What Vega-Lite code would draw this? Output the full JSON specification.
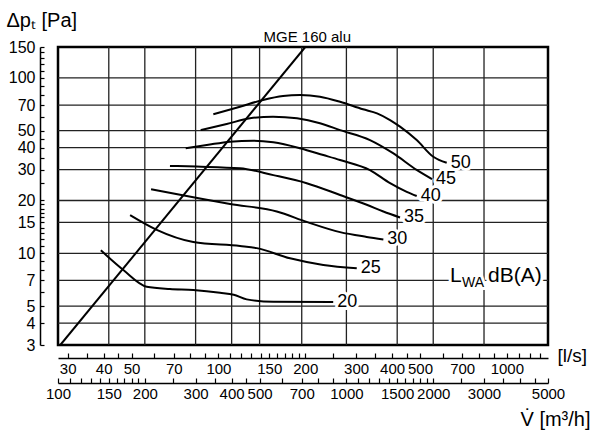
{
  "$schema": "https://vega.github.io/schema/vega-lite/v6.json",
  "width": 490,
  "height": 298,
  "autosize": {"type": "none"},
  "padding": {"left": 58, "top": 47, "right": 52, "bottom": 91},
  "background": "white",
  "config": {
    "font": "Liberation Sans",
    "view": {"stroke": "black", "strokeWidth": 2.5},
    "axis": {
      "grid": false,
      "domainColor": "black",
      "domainWidth": 1.5,
      "tickColor": "black",
      "tickWidth": 1.2,
      "labelColor": "black",
      "titleColor": "black",
      "labelFont": "Liberation Sans",
      "titleFont": "Liberation Sans",
      "labelFontSize": 16,
      "titleFontWeight": "normal",
      "labelOverlap": false,
      "labelFlush": false
    }
  },
  "datasets": {
    "vgrid": [
      {"m3h": 150}, {"m3h": 200}, {"m3h": 300}, {"m3h": 400}, {"m3h": 500},
      {"m3h": 700}, {"m3h": 1000}, {"m3h": 1500}, {"m3h": 2000}, {"m3h": 3000}
    ],
    "hgrid": [
      {"pa": 4}, {"pa": 5}, {"pa": 7}, {"pa": 10}, {"pa": 15}, {"pa": 20},
      {"pa": 30}, {"pa": 40}, {"pa": 50}, {"pa": 70}, {"pa": 100}
    ],
    "system": [
      {"name": "MGE 160 alu", "ls": 28.3, "pa": 3.0},
      {"name": "MGE 160 alu", "ls": 200, "pa": 150}
    ],
    "systemLabel": [
      {"name": "MGE 160 alu", "ls": 200, "pa": 150}
    ],
    "curves": [
      {"db": 20, "ls": 39.1, "pa": 10.4},
      {"db": 20, "ls": 46.8, "pa": 8.03},
      {"db": 20, "ls": 56.4, "pa": 6.45},
      {"db": 20, "ls": 67.9, "pa": 6.26},
      {"db": 20, "ls": 81.8, "pa": 6.18},
      {"db": 20, "ls": 101.3, "pa": 5.96},
      {"db": 20, "ls": 113, "pa": 5.8},
      {"db": 20, "ls": 125.3, "pa": 5.46},
      {"db": 20, "ls": 155, "pa": 5.29},
      {"db": 20, "ls": 250, "pa": 5.27},

      {"db": 25, "ls": 49.4, "pa": 16.5},
      {"db": 25, "ls": 61.1, "pa": 13.6},
      {"db": 25, "ls": 81.8, "pa": 11.6},
      {"db": 25, "ls": 118.8, "pa": 11.0},
      {"db": 25, "ls": 135.8, "pa": 10.7},
      {"db": 25, "ls": 177.1, "pa": 9.36},
      {"db": 25, "ls": 231, "pa": 8.58},
      {"db": 25, "ls": 301.7, "pa": 8.21},

      {"db": 30, "ls": 58.4, "pa": 23.2},
      {"db": 30, "ls": 77.6, "pa": 21.2},
      {"db": 30, "ls": 109.7, "pa": 19.1},
      {"db": 30, "ls": 159.3, "pa": 17.3},
      {"db": 30, "ls": 202.3, "pa": 15.1},
      {"db": 30, "ls": 264, "pa": 13.2},
      {"db": 30, "ls": 326.7, "pa": 12.4},
      {"db": 30, "ls": 373.1, "pa": 12.0},

      {"db": 35, "ls": 67.9, "pa": 31.5},
      {"db": 35, "ls": 84.1, "pa": 31.2},
      {"db": 35, "ls": 118.8, "pa": 30.5},
      {"db": 35, "ls": 155, "pa": 27.9},
      {"db": 35, "ls": 202.3, "pa": 25.1},
      {"db": 35, "ls": 264, "pa": 21.5},
      {"db": 35, "ls": 326.7, "pa": 18.9},
      {"db": 35, "ls": 373.1, "pa": 17.3},
      {"db": 35, "ls": 426.2, "pa": 16.0},

      {"db": 40, "ls": 77, "pa": 39.7},
      {"db": 40, "ls": 91.1, "pa": 41.4},
      {"db": 40, "ls": 109.7, "pa": 43.3},
      {"db": 40, "ls": 132.1, "pa": 43.8},
      {"db": 40, "ls": 155, "pa": 42.9},
      {"db": 40, "ls": 191.8, "pa": 39.7},
      {"db": 40, "ls": 231, "pa": 36.3},
      {"db": 40, "ls": 264, "pa": 34.0},
      {"db": 40, "ls": 335.3, "pa": 29.8},
      {"db": 40, "ls": 393.6, "pa": 25.1},
      {"db": 40, "ls": 449.7, "pa": 22.4},
      {"db": 40, "ls": 486.9, "pa": 21.2},

      {"db": 45, "ls": 86.8, "pa": 50.4},
      {"db": 45, "ls": 106.8, "pa": 54.6},
      {"db": 45, "ls": 128.7, "pa": 58.8},
      {"db": 45, "ls": 154.6, "pa": 60.1},
      {"db": 45, "ls": 187.3, "pa": 58.8},
      {"db": 45, "ls": 224.9, "pa": 55.1},
      {"db": 45, "ls": 264, "pa": 50.4},
      {"db": 45, "ls": 335.3, "pa": 44.2},
      {"db": 45, "ls": 403.1, "pa": 37.2},
      {"db": 45, "ls": 488.1, "pa": 29.8},
      {"db": 45, "ls": 550.2, "pa": 26.5},

      {"db": 50, "ls": 96, "pa": 62},
      {"db": 50, "ls": 118.8, "pa": 68.5},
      {"db": 50, "ls": 142.7, "pa": 74.8},
      {"db": 50, "ls": 167.5, "pa": 78.8},
      {"db": 50, "ls": 191.8, "pa": 79.8},
      {"db": 50, "ls": 224.9, "pa": 78.1},
      {"db": 50, "ls": 264, "pa": 73.1},
      {"db": 50, "ls": 317.1, "pa": 66.2},
      {"db": 50, "ls": 354.7, "pa": 62.8},
      {"db": 50, "ls": 393.6, "pa": 57.5},
      {"db": 50, "ls": 426.2, "pa": 52.7},
      {"db": 50, "ls": 486.9, "pa": 44.2},
      {"db": 50, "ls": 555.9, "pa": 35.5},
      {"db": 50, "ls": 618.7, "pa": 32.8}
    ],
    "ends": [
      {"db": "20", "ls": 250, "pa": 5.27},
      {"db": "25", "ls": 301.7, "pa": 8.21},
      {"db": "30", "ls": 373.1, "pa": 12.0},
      {"db": "35", "ls": 426.2, "pa": 16.0},
      {"db": "40", "ls": 486.9, "pa": 21.2},
      {"db": "45", "ls": 550.2, "pa": 26.5},
      {"db": "50", "ls": 618.7, "pa": 32.8}
    ],
    "unitLabel": [
      {"ls": 635, "pa": 6.9}
    ]
  },
  "layer": [
    {
      "layer": [
        {
          "data": {"name": "vgrid"},
          "mark": {"type": "rule", "color": "#222", "strokeWidth": 1.3},
          "encoding": {
            "x": {
              "field": "m3h",
              "type": "quantitative",
              "scale": {"type": "log", "domain": [100, 5000], "nice": false},
              "axis": {
                "orient": "bottom",
                "offset": 38,
                "values": [100, 110, 120, 130, 140, 150, 160, 170, 180, 190, 200, 250, 300, 350, 400, 450, 500, 600, 700, 800, 900, 1000, 1100, 1200, 1300, 1400, 1500, 1600, 1700, 1800, 1900, 2000, 2500, 3000, 3500, 4000, 4500, 5000],
                "tickSize": -5,
                "labelPadding": 8,
                "labelFontSize": 15,
                "labelExpr": "indexof([100,150,200,300,400,500,700,1000,1500,2000,3000,5000], datum.value) >= 0 ? format(datum.value, 'd') : ''",
                "title": "V̇ [m³/h]",
                "titleFontSize": 20,
                "titleX": 532,
                "titleY": 42,
                "titleAlign": "right",
                "titleBaseline": "alphabetic",
                "titleAngle": 0
              }
            }
          }
        },
        {
          "data": {"name": "hgrid"},
          "mark": {"type": "rule", "color": "#222", "strokeWidth": 1.3},
          "encoding": {
            "y": {
              "field": "pa",
              "type": "quantitative",
              "scale": {"type": "log", "domain": [3, 150], "nice": false},
              "axis": {
                "orient": "left",
                "offset": 18,
                "values": [3, 4, 5, 6, 7, 8, 9, 10, 11, 12, 13, 14, 15, 16, 17, 18, 19, 20, 25, 30, 35, 40, 45, 50, 60, 70, 80, 90, 100, 110, 120, 130, 140, 150],
                "tickSize": -4,
                "labelPadding": 9,
                "labelExpr": "indexof([3,4,5,7,10,15,20,30,40,50,70,100,150], datum.value) >= 0 ? format(datum.value, 'd') : ''",
                "title": "Δpₜ [Pa]",
                "titleFontSize": 20,
                "titleAngle": 0,
                "titleX": -34,
                "titleY": -21,
                "titleAlign": "left",
                "titleBaseline": "alphabetic"
              }
            }
          }
        }
      ]
    },
    {
      "layer": [
        {
          "data": {"name": "ends"},
          "mark": {"type": "text", "align": "left", "baseline": "middle", "dx": 4, "fontSize": 18, "color": "white", "stroke": "white", "strokeWidth": 6, "strokeJoin": "round"},
          "encoding": {
            "x": {"field": "ls", "type": "quantitative", "scale": {"type": "log", "domain": [27.778, 1388.89], "nice": false}},
            "y": {"field": "pa", "type": "quantitative", "scale": {"type": "log", "domain": [3, 150], "nice": false}},
            "text": {"field": "db"}
          }
        },
        {
          "data": {"name": "unitLabel"},
          "layer": [
            {"mark": {"type": "text", "align": "left", "baseline": "alphabetic", "fontSize": 21, "color": "white", "stroke": "white", "strokeWidth": 6, "strokeJoin": "round", "text": "L"}},
            {"mark": {"type": "text", "align": "left", "baseline": "alphabetic", "dx": 12, "dy": 5, "fontSize": 14, "color": "white", "stroke": "white", "strokeWidth": 6, "strokeJoin": "round", "text": "WA"}},
            {"mark": {"type": "text", "align": "left", "baseline": "alphabetic", "dx": 38, "fontSize": 21, "color": "white", "stroke": "white", "strokeWidth": 6, "strokeJoin": "round", "text": "dB(A)"}},
            {"mark": {"type": "text", "align": "left", "baseline": "alphabetic", "fontSize": 21, "color": "black", "text": "L"}},
            {"mark": {"type": "text", "align": "left", "baseline": "alphabetic", "dx": 12, "dy": 5, "fontSize": 14, "color": "black", "text": "WA"}},
            {"mark": {"type": "text", "align": "left", "baseline": "alphabetic", "dx": 38, "fontSize": 21, "color": "black", "text": "dB(A)"}}
          ],
          "encoding": {
            "x": {"field": "ls", "type": "quantitative", "scale": {"type": "log", "domain": [27.778, 1388.89], "nice": false}},
            "y": {"field": "pa", "type": "quantitative", "scale": {"type": "log", "domain": [3, 150], "nice": false}}
          }
        },
        {
          "data": {"name": "system"},
          "mark": {"type": "line", "color": "black", "strokeWidth": 2, "clip": true},
          "encoding": {
            "x": {"field": "ls", "type": "quantitative", "scale": {"type": "log", "domain": [27.778, 1388.89], "nice": false}},
            "y": {"field": "pa", "type": "quantitative", "scale": {"type": "log", "domain": [3, 150], "nice": false}}
          }
        },
        {
          "data": {"name": "systemLabel"},
          "mark": {"type": "text", "align": "center", "baseline": "alphabetic", "dx": 2, "dy": -5, "fontSize": 15, "color": "black"},
          "encoding": {
            "x": {"field": "ls", "type": "quantitative", "scale": {"type": "log", "domain": [27.778, 1388.89], "nice": false}},
            "y": {"field": "pa", "type": "quantitative", "scale": {"type": "log", "domain": [3, 150], "nice": false}},
            "text": {"field": "name"}
          }
        },
        {
          "data": {"name": "curves"},
          "mark": {"type": "line", "color": "black", "strokeWidth": 2, "interpolate": "monotone"},
          "encoding": {
            "x": {
              "field": "ls",
              "type": "quantitative",
              "scale": {"type": "log", "domain": [27.778, 1388.89], "nice": false},
              "axis": {
                "orient": "bottom",
                "offset": 13,
                "values": [30, 35, 40, 45, 50, 60, 70, 80, 90, 100, 110, 120, 130, 140, 150, 160, 170, 180, 190, 200, 250, 300, 350, 400, 450, 500, 600, 700, 800, 900, 1000, 1100, 1200, 1300],
                "tickSize": -5,
                "labelPadding": 8,
                "labelFontSize": 15,
                "labelExpr": "indexof([30,40,50,70,100,150,200,300,400,500,700,1000], datum.value) >= 0 ? format(datum.value, 'd') : ''",
                "title": "[l/s]",
                "titleFontSize": 19,
                "titleX": 499,
                "titleY": -3,
                "titleAlign": "left",
                "titleBaseline": "middle",
                "titleAngle": 0
              }
            },
            "y": {"field": "pa", "type": "quantitative", "scale": {"type": "log", "domain": [3, 150], "nice": false}},
            "detail": {"field": "db", "type": "nominal"}
          }
        },
        {
          "data": {"name": "ends"},
          "mark": {"type": "text", "align": "left", "baseline": "middle", "dx": 4, "fontSize": 18, "color": "black"},
          "encoding": {
            "x": {"field": "ls", "type": "quantitative", "scale": {"type": "log", "domain": [27.778, 1388.89], "nice": false}},
            "y": {"field": "pa", "type": "quantitative", "scale": {"type": "log", "domain": [3, 150], "nice": false}},
            "text": {"field": "db"}
          }
        }
      ]
    }
  ],
  "resolve": {"scale": {"x": "independent"}, "axis": {"x": "independent"}}
}
